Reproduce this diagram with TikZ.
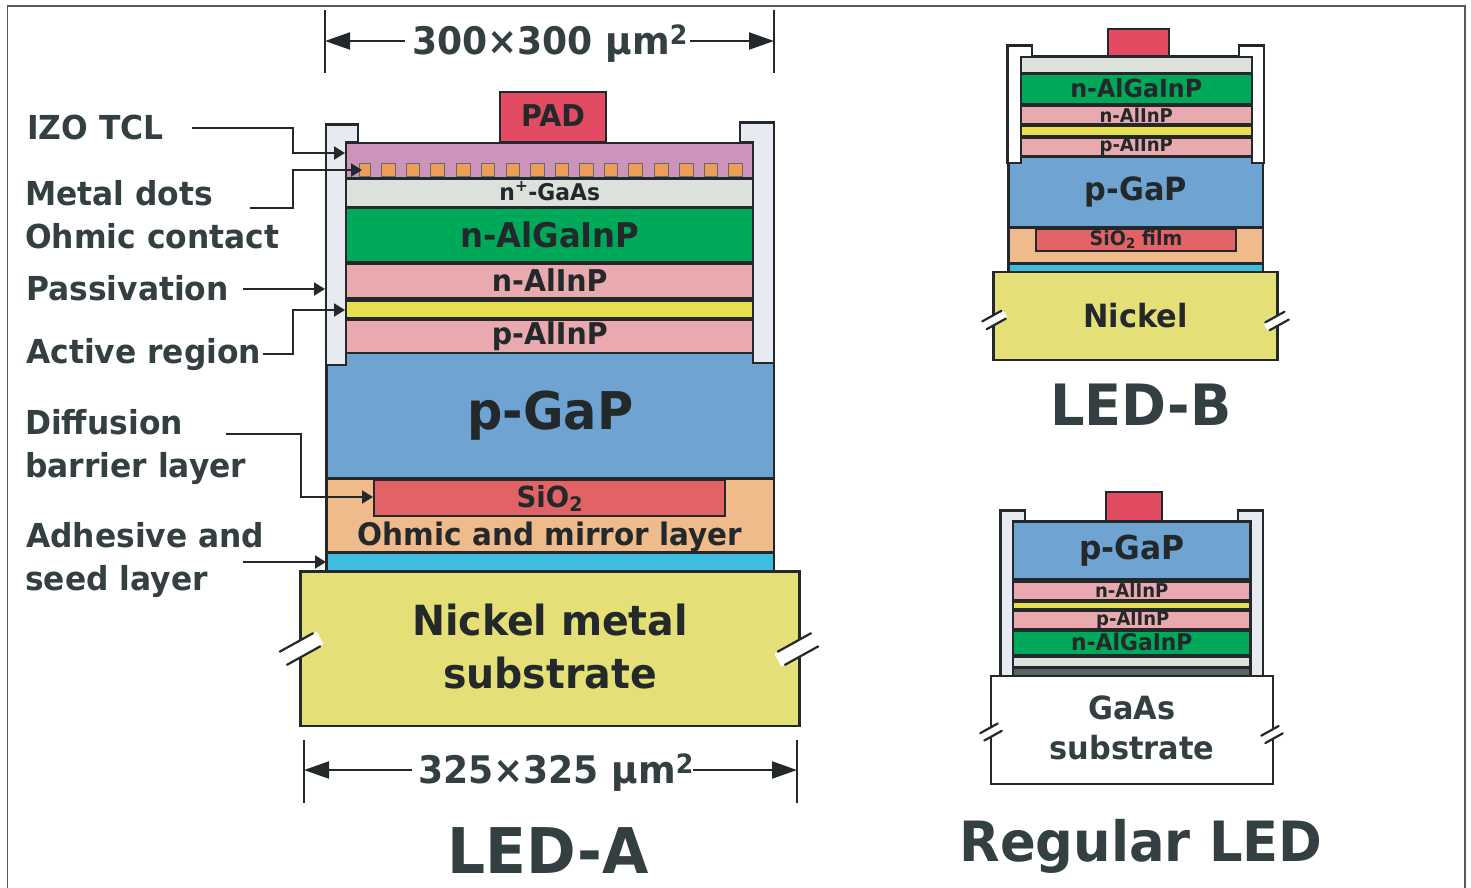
\documentclass[tikz,border=0pt]{standalone}
\usepackage{fontspec}
\setmainfont{DejaVu Sans}[FakeStretch=0.95]
\usetikzlibrary{arrows.meta}
\definecolor{ink}{HTML}{23282A}
\definecolor{lbl}{HTML}{343F42}
\definecolor{cIZO}{HTML}{CE93BA}
\definecolor{cDot}{HTML}{EC9E58}
\definecolor{cGaAs}{HTML}{DDE1DB}
\definecolor{cGrn}{HTML}{00A85A}
\definecolor{cPink}{HTML}{EAA9AF}
\definecolor{cYel}{HTML}{E8DF4E}
\definecolor{cBlue}{HTML}{6FA3D2}
\definecolor{cOhm}{HTML}{EFBB8B}
\definecolor{cSiO}{HTML}{E26366}
\definecolor{cCyan}{HTML}{3FBDE0}
\definecolor{cNi}{HTML}{E4E077}
\definecolor{cPad}{HTML}{E24B62}
\definecolor{cPas}{HTML}{E7EAF0}
\definecolor{cDark}{HTML}{596366}
\tikzset{
 x=1pt,y=-1pt,
 lay/.style={draw=ink,line width=2.4pt,inner sep=0pt,outer sep=0pt,text=ink,font=\bfseries},
 conn/.style={draw=ink,line width=2.2pt},
 arr/.style={conn,-{Triangle[length=11pt,width=13pt]}},
 dim/.style={draw=ink,line width=2.2pt,{Triangle[length=25pt,width=17pt]}-},
 dimr/.style={draw=ink,line width=2.2pt,-{Triangle[length=25pt,width=17pt]}},
 tick/.style={draw=ink,line width=2.2pt},
 side/.style={text=lbl,font=\bfseries\fontsize{33}{40}\selectfont,anchor=base west,inner sep=0pt},
 title/.style={text=lbl,font=\bfseries,anchor=base,inner sep=0pt},
 pas/.style={draw=ink,line width=2.4pt,fill=#1},
}
\newcommand{\lay}[8]{\node[lay,fill=#6,anchor=north west,minimum width={(#4-#2)*1pt},minimum height={(#5-#3)*1pt},font=\bfseries\fontsize{#7}{#7}\selectfont] (#1) at (#2,#3) {#8};}
% x, y, half length of the two strokes, half distance between them, extra white band length
\newcommand{\brk}[5]{\begin{scope}[shift={(#1,#2)},rotate=29]
 \fill[white,rounded corners=1pt] (-#3-#5,-#4) rectangle (#3+#5,#4);
 \draw[conn,line cap=round] (-#3,-#4)--(#3,-#4) (-#3,#4)--(#3,#4);
\end{scope}}
\begin{document}
\begin{tikzpicture}
\useasboundingbox (0,0) rectangle (1471,887);
\draw[draw=black!65,line width=1.4pt] (7.5,892) -- (7.5,6) -- (1465,6) -- (1465,892);
% ---------- LED-A
\fill[ink] (345,175) rectangle (754,354);
\lay{apad}{500}{92}{606}{142}{cPad}{30}{\raisebox{3pt}{PAD}}
\lay{aizo}{345.5}{143}{754}{178.5}{cIZO}{10}{}
\foreach \a/\b in {359/370,381/395,406/419,430/444,456/470,481/494,506/519,530/544,555/568,579/593,604/617,628/642,654/668,679/693,704/717,728/742}
 \filldraw[fill=cDot,draw=ink!70,line width=.6pt] (\a,163) rectangle (\b,176.5);
\lay{agaas}{345.5}{179}{754}{207}{cGaAs}{23}{\raisebox{3.5pt}{n\textsuperscript{+}-GaAs}}
\lay{ang}{345.5}{208}{754}{262.5}{cGrn}{34}{\raisebox{2pt}{n-AlGaInP}}
\lay{anal}{345.5}{264}{754}{298.5}{cPink}{30}{\raisebox{2pt}{n-AlInP}}
\lay{aact}{345.5}{300.5}{754}{318.5}{cYel}{10}{}
\lay{apal}{345.5}{320}{754}{353}{cPink}{30}{p-AlInP}
\lay{agap}{326.5}{353}{774}{478}{cBlue}{52}{\raisebox{-2pt}{p-GaP}}
\draw[pas=cPas] (346,142) -- (358,142) -- (358,124.5) -- (326,124.5) -- (326,365) -- (346,365) -- cycle;
\draw[pas=cPas] (753,142) -- (740,142) -- (740,122.5) -- (774,122.5) -- (774,363) -- (753,363) -- cycle;
\lay{aohm}{326.5}{479}{774}{552}{cOhm}{10}{}
\lay{asio}{374}{480}{725}{516}{cSiO}{29}{SiO\raisebox{-4pt}{\fontsize{20}{20}\selectfont 2}}
\node[text=ink,font=\bfseries\fontsize{31}{31}\selectfont,anchor=base,inner sep=0pt] (aohmt) at (550,545) {Ohmic and mirror layer};
\lay{acy}{326.5}{553}{774}{572}{cCyan}{10}{}
\lay{ani}{300.5}{571.5}{799.5}{726}{cNi}{41}{}
\node[text=ink,font=\bfseries\fontsize{41.5}{53}\selectfont,align=center,inner sep=0pt] (anit) at (550,647) {Nickel metal\\substrate};
\brk{300}{649}{19}{7.5}{4}
\brk{798}{649}{19}{7.5}{4}
\node[side] (l1) at (27,139) {IZO TCL};
\node[side] (l2) at (25,205) {Metal dots};
\node[side] (l3) at (25,248) {Ohmic contact};
\node[side] (l4) at (26,300) {Passivation};
\node[side] (l5) at (26,363) {Active region};
\node[side] (l6) at (25,434) {Diffusion};
\node[side] (l7) at (25,477) {barrier layer};
\node[side] (l8) at (26,547) {Adhesive and};
\node[side] (l9) at (25,590) {seed layer};
\coordinate (s1) at (192,128);
\coordinate (s2) at (250,208);
\coordinate (s4) at (243,289);
\coordinate (s5) at (263,354);
\coordinate (s6) at (226,434);
\coordinate (s8) at (243,562);
\coordinate (e1) at (345,153);
\coordinate (e2) at (362,170);
\coordinate (e4) at (325,289);
\coordinate (e5) at (345,310);
\coordinate (e6) at (373,497);
\coordinate (e8) at (326,562);
\draw[arr] (s1) -| (293,153) -- (e1);
\draw[arr] (s2) -- (293,208) |- (e2);
\draw[arr] (s4) -- (e4);
\draw[arr] (s5) -- (293,354) |- (e5);
\draw[arr] (s6) -- (301,434) |- (e6);
\draw[arr] (s8) -- (e8);
\coordinate (t1a) at (325,10); \coordinate (t1b) at (325,73);
\coordinate (t2a) at (774,10); \coordinate (t2b) at (774,73);
\draw[tick] (t1a) -- (t1b); \draw[tick] (t2a) -- (t2b);
\node[text=lbl,font=\bfseries\fontsize{38}{38}\selectfont,anchor=base,inner sep=0pt] (d1) at (550,54) {300×300 µm\textsuperscript{2}};
\coordinate (d1l) at (405,41); \coordinate (d1r) at (690,41);
\draw[dim] (325,41) -- (d1l); \draw[dimr] (d1r) -- (774,41);
\coordinate (t3a) at (304,740); \coordinate (t3b) at (304,803);
\coordinate (t4a) at (797,740); \coordinate (t4b) at (797,803);
\draw[tick] (t3a) -- (t3b); \draw[tick] (t4a) -- (t4b);
\node[text=lbl,font=\bfseries\fontsize{38}{38}\selectfont,anchor=base,inner sep=0pt] (d2) at (556,783) {325×325 µm\textsuperscript{2}};
\coordinate (d2l) at (412,770); \coordinate (d2r) at (693,770);
\draw[dim] (304,770) -- (d2l); \draw[dimr] (d2r) -- (797,770);
\node[title,font=\bfseries\fontsize{63}{63}\selectfont] (ta) at (548,873) {LED-A};
% ---------- LED-B
\fill[ink] (1020,70) rectangle (1252,158);
\lay{bpad}{1108}{29}{1169}{57}{cPad}{10}{}
\lay{bgaas}{1020.5}{56.5}{1252}{73}{cGaAs}{10}{}
\lay{bng}{1020.5}{74}{1252}{104}{cGrn}{25}{\raisebox{1.5pt}{n-AlGaInP}}
\lay{bnal}{1020.5}{106}{1252}{124}{cPink}{19}{n-AlInP}
\lay{bact}{1020.5}{126}{1252}{136}{cYel}{10}{}
\lay{bpal}{1020.5}{137.5}{1252}{155}{cPink}{19}{\raisebox{-1pt}{p-AlInP}}
\lay{bgap}{1008.5}{156.5}{1263}{227}{cBlue}{32}{\raisebox{-1pt}{p-GaP}}
\draw[pas=white] (1021,57) -- (1032,57) -- (1032,45.5) -- (1007.5,45.5) -- (1007.5,163) -- (1021,163) -- cycle;
\draw[pas=white] (1252,57) -- (1239,57) -- (1239,45.5) -- (1264,45.5) -- (1264,163) -- (1252,163) -- cycle;
\lay{bohm}{1008.5}{227.5}{1263}{263}{cOhm}{10}{}
\lay{bsio}{1036}{228.5}{1236}{251}{cSiO}{20}{SiO\raisebox{-3pt}{\fontsize{14}{14}\selectfont 2} film}
\lay{bcy}{1008.5}{264}{1263}{273}{cCyan}{10}{}
\lay{bni}{993.5}{272}{1277.5}{360}{cNi}{32}{\raisebox{2pt}{Nickel}}
\brk{994}{320}{11}{4.5}{2}
\brk{1277}{321}{11}{4.5}{2}
\node[title,font=\bfseries\fontsize{57}{57}\selectfont] (tb) at (1141,425) {LED-B};
% ---------- Regular LED
\draw[pas=cPas] (1013,522) -- (1025,522) -- (1025,510.5) -- (1000.5,510.5) -- (1000.5,677) -- (1013,677) -- cycle;
\draw[pas=cPas] (1250,522) -- (1238,522) -- (1238,510.5) -- (1263,510.5) -- (1263,677) -- (1250,677) -- cycle;
\fill[ink] (1013,575) rectangle (1250.5,676);
\lay{rpad}{1106}{492}{1162}{521}{cPad}{10}{}
\lay{rgap}{1013}{521.5}{1250.5}{579}{cBlue}{33}{p-GaP}
\lay{rnal}{1013}{581.5}{1250.5}{600}{cPink}{19}{n-AlInP}
\lay{ract}{1013}{601.5}{1250.5}{609}{cYel}{10}{}
\lay{rpal}{1013}{610.5}{1250.5}{629}{cPink}{19}{\hspace*{2pt}p-AlInP}
\lay{rng}{1013}{631}{1250.5}{655}{cGrn}{23}{\raisebox{2pt}{n-AlGaInP}}
\lay{rgaas}{1013}{656.5}{1250.5}{667}{cGaAs}{10}{}
\lay{rdk}{1013}{667.5}{1250.5}{676}{cDark}{10}{}
\node[lay,draw=ink,fill=white,anchor=north west,minimum width=282pt,minimum height=108pt] (rsub) at (991,676) {};
\node[text=lbl,font=\bfseries\fontsize{32}{40}\selectfont,align=center,inner sep=0pt] (rsubt) at (1132,728) {GaAs\\substrate};
\brk{991}{732}{10}{4.2}{2}
\brk{1272}{734.5}{10}{4.2}{2}
\node[title,font=\bfseries\fontsize{55.5}{55.5}\selectfont] (tr) at (1141,861) {Regular LED};
\end{tikzpicture}
\end{document}
